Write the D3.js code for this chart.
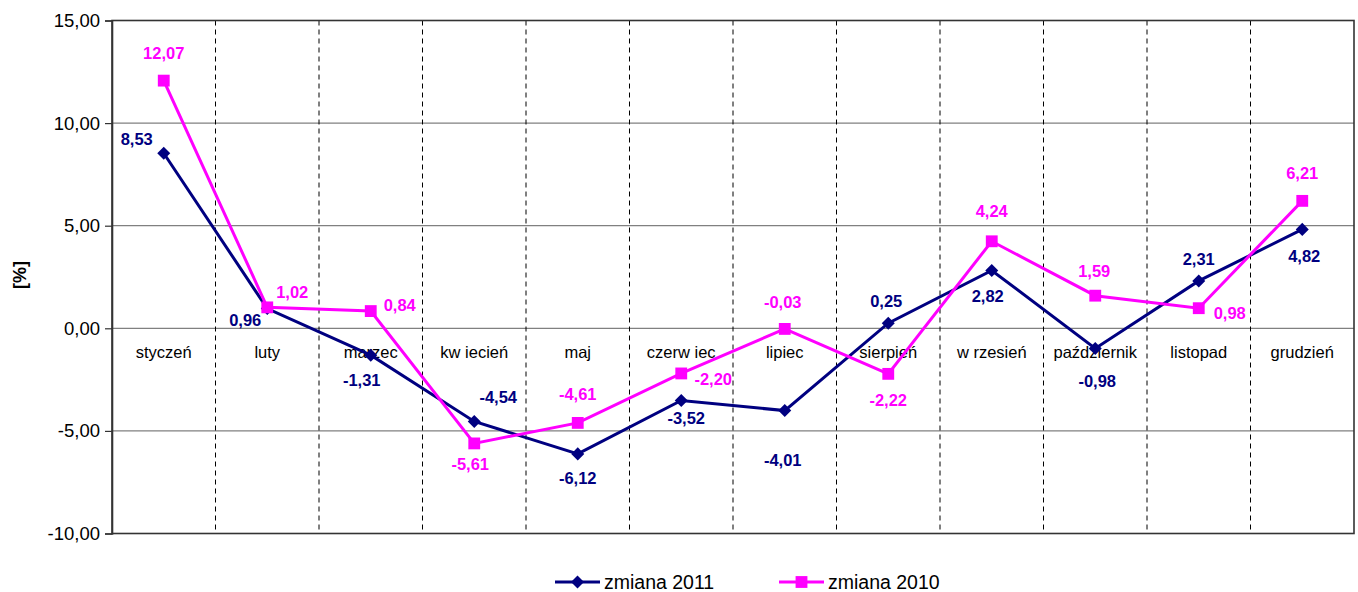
<!DOCTYPE html>
<html><head><meta charset="utf-8">
<script src="https://cdn.jsdelivr.net/npm/d3@7"></script>
<style>
html,body{margin:0;padding:0;background:#fff;}
svg{display:block;font-family:"Liberation Sans",Arial,sans-serif;}
</style></head>
<body>
<svg id="chart" width="1358" height="592"></svg>
<script>
const months = ["styczeń","luty","marzec","kw iecień","maj","czerw iec","lipiec","sierpień","w rzesień","październik","listopad","grudzień"];
const zmiana2011 = [8.53,0.96,-1.31,-4.54,-6.12,-3.52,-4.01,0.25,2.82,-0.98,2.31,4.82];
const zmiana2010 = [12.07,1.02,0.84,-5.61,-4.61,-2.20,-0.03,-2.22,4.24,1.59,0.98,6.21];
const yTicks = [15,10,5,0,-5,-10];
const seriesNames = ["zmiana 2011","zmiana 2010"];

// label placement offsets (label centre relative to point), px
const lab2011 = [[-27,-14],[-22,11],[-9,25],[24,-24],[0,24],[5,18],[-2,49],[-2,-22],[-4,26],[2,33],[0,-22],[2,27]];
const lab2010 = [[0,-28],[25,-15],[29,-6],[-4,21],[0,-29],[32,6],[-2,-27],[0,26],[0,-30],[-1,-25],[31,5],[0,-28]];

const navy = "#000080", mag = "#FF00FF";
const svg = d3.select("#chart");
const L = 112, R = 1354, T = 20.5, B = 533.5;

const x = d3.scaleBand().domain(months).range([L,R]).padding(0);
const y = d3.scaleLinear().domain([-10,15]).range([B,T]);
const loc = d3.formatLocale({decimal:",", thousands:" ", grouping:[3], currency:["",""], minus:"-"});
const fmt = loc.format(".2f");

// horizontal gridlines
svg.append("g").selectAll("line").data(yTicks.filter(t => t!==15 && t!==-10)).join("line")
  .attr("x1",L).attr("x2",R).attr("y1",d=>y(d)).attr("y2",d=>y(d))
  .attr("stroke","#808080").attr("stroke-width",1.2);

// vertical dashed separators
svg.append("g").selectAll("line").data(months.slice(1)).join("line")
  .attr("x1",d=>x(d)).attr("x2",d=>x(d)).attr("y1",T).attr("y2",B)
  .attr("stroke","#000").attr("stroke-width",1).attr("stroke-dasharray","5,4");

// plot border
svg.append("rect").attr("x",L).attr("y",T).attr("width",R-L).attr("height",B-T)
  .attr("fill","none").attr("stroke","#333").attr("stroke-width",1.6);

// y axis
const yAxis = d3.axisLeft(y).tickValues(yTicks).tickSize(7).tickFormat(fmt);
const ya = svg.append("g").attr("transform",`translate(${L},0)`).call(yAxis);
ya.select(".domain").attr("stroke","#333").attr("stroke-width",1.6);
ya.selectAll(".tick line").attr("stroke","#333").attr("stroke-width",1.2);
ya.selectAll(".tick text").attr("font-size",18.5).attr("fill","#000").attr("x",-12)
  .attr("font-family","'Liberation Sans',Arial,sans-serif");

// y title
svg.append("text").attr("transform","translate(26,275) rotate(-90)")
  .attr("text-anchor","middle").attr("font-size",18).attr("font-weight","bold").text("[%]");

// category labels
svg.append("g").selectAll("text").data(months).join("text")
  .attr("x",d=>x(d)+x.bandwidth()/2).attr("y",y(0)+30)
  .attr("text-anchor","middle").attr("font-size",16.5).attr("fill","#000").text(d=>d);

const line = d3.line().x((d,i)=>x(months[i])+x.bandwidth()/2).y(d=>y(d));
const symSize = {diamond:85, square:140};

function drawSeries(vals, color, shape, labs){
  const g = svg.append("g");
  g.append("path").datum(vals).attr("d",line).attr("fill","none")
    .attr("stroke",color).attr("stroke-width",3).attr("stroke-linejoin","miter");
  const sym = d3.symbol().type(d3.symbolSquare).size(symSize[shape]);
  g.selectAll("path.m").data(vals).join("path").attr("class","m")
    .attr("d",sym())
    .attr("transform",(d,i)=>`translate(${x(months[i])+x.bandwidth()/2},${y(d)})`+(shape==="diamond"?" rotate(45)":""))
    .attr("fill",color);
  g.selectAll("text").data(vals).join("text")
    .attr("x",(d,i)=>x(months[i])+x.bandwidth()/2+labs[i][0])
    .attr("y",(d,i)=>y(d)+labs[i][1])
    .attr("dy","0.36em")
    .attr("text-anchor","middle").attr("font-size",16.5).attr("font-weight","bold")
    .attr("fill",color).text(d=>fmt(d));
}
drawSeries(zmiana2011, navy, "diamond", lab2011);
drawSeries(zmiana2010, mag, "square", lab2010);

// legend
const legend = [{name:seriesNames[0],color:navy,shape:"diamond",x0:555},{name:seriesNames[1],color:mag,shape:"square",x0:779}];
const lg = svg.append("g");
legend.forEach(it=>{
  const ly = 582;
  lg.append("line").attr("x1",it.x0).attr("x2",it.x0+45).attr("y1",ly).attr("y2",ly)
    .attr("stroke",it.color).attr("stroke-width",3);
  lg.append("path").attr("d",d3.symbol().type(d3.symbolSquare).size(symSize[it.shape])())
    .attr("transform",`translate(${it.x0+22.5},${ly})`+(it.shape==="diamond"?" rotate(45)":""))
    .attr("fill",it.color);
  lg.append("text").attr("x",it.x0+49).attr("y",ly).attr("dy","0.36em")
    .attr("font-size",19.5).attr("fill","#000").text(it.name);
});
</script>
</body></html>
